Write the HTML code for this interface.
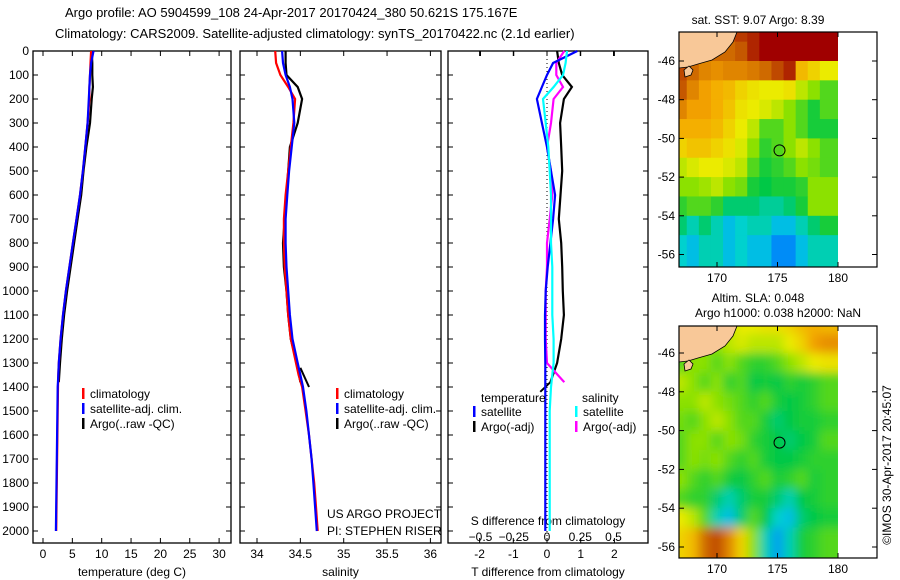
<!DOCTYPE html>
<html><head><meta charset="utf-8"><style>
body{margin:0;background:#fff;}
svg{display:block;font-family:"Liberation Sans",sans-serif;}
text{fill:#000;}
</style></head><body>
<svg id="c" width="900" height="580" viewBox="0 0 900 580"></svg>
<script>
// ---- data ----
const depthT=[0,50,100,150,200,300,400,500,600,700,800,900,1000,1100,1200,1300,1350,1400,1500,1600,1700,1800,1900,2000];
const tempClim=[8.2,8.1,8.0,7.9,7.9,7.6,7.2,6.8,6.3,5.7,5.1,4.5,3.9,3.4,3.0,2.7,2.6,2.55,2.5,2.45,2.4,2.35,2.3,2.25];
const tempSat=[8.6,8.2,8.0,7.9,7.8,7.6,7.2,6.8,6.3,5.7,5.1,4.5,3.9,3.4,3.0,2.7,2.6,2.5,2.45,2.4,2.35,2.3,2.25,2.2];
const tempArgo=[8.3,8.4,8.4,8.5,8.3,8.0,7.4,6.9,6.5,5.9,5.3,4.7,4.1,3.6,3.2,2.9,2.7];
const depthArgo=[0,50,100,150,200,300,400,500,600,700,800,900,1000,1100,1200,1300,1380];
const salClim=[34.21,34.22,34.27,34.36,34.44,34.42,34.39,34.36,34.33,34.31,34.31,34.32,34.34,34.36,34.39,34.45,34.48,34.52,34.56,34.6,34.63,34.66,34.68,34.7];
const salSat=[34.29,34.30,34.33,34.38,34.41,34.43,34.40,34.37,34.35,34.33,34.33,34.34,34.36,34.38,34.41,34.47,34.5,34.53,34.57,34.6,34.63,34.65,34.67,34.69];
const salArgo=[34.33,34.33,34.34,34.47,34.52,34.47,34.38,34.36,34.34,34.32,34.3,34.31,34.34,34.36,34.39,34.46,34.5];
const dTsat=[0.9,0.18,0,-0.15,-0.3,-0.15,0,0.12,0.24,0.18,0.1,0.02,-0.04,-0.06,-0.06,-0.05,-0.05,-0.05,-0.05,-0.05,-0.05,-0.05,-0.05,-0.05];
const dSsat=[0.15,0.14,0.12,0.05,-0.03,-0.01,0.01,0.02,0.03,0.03,0.03,0.04,0.04,0.04,0.05,0.05,0.04,0.03,0.02,0.02,0.02,0.02,0.02,0.02];
const dTargo=[0.3,0.35,0.45,0.74,0.5,0.39,0.42,0.45,0.4,0.35,0.42,0.45,0.47,0.5,0.42,0.3,0.1];
const dSargo=[0.13,0.07,0.07,0.12,0.05,0.03,0.0,0.03,0.04,0.02,0.0,0.0,-0.01,-0.01,-0.01,0,0.13];
const sstGrid=[
[1,.95,.9,.88,.9,.92,.95,1,1,1,1,1,1],
[.95,.9,.88,.85,.85,.88,.95,1,1,1,1,1,1],
[.9,.85,.8,.78,.8,.8,.82,.85,.9,.95,.7,.65,.6],
[.88,.8,.75,.72,.7,.65,.62,.6,.6,.62,.55,.5,.45],
[.8,.75,.75,.72,.68,.62,.6,.58,.55,.5,.45,.4,.45],
[.72,.72,.72,.7,.65,.6,.55,.45,.45,.5,.45,.4,.4],
[.65,.68,.68,.65,.62,.58,.5,.42,.45,.5,.55,.5,.45],
[.55,.58,.6,.6,.58,.55,.45,.4,.42,.45,.5,.48,.45],
[.5,.5,.52,.55,.5,.48,.4,.38,.4,.4,.42,.5,.5],
[.42,.45,.45,.42,.35,.35,.35,.32,.32,.35,.4,.5,.5],
[.35,.3,.35,.3,.25,.28,.3,.3,.25,.25,.3,.35,.4],
[.28,.25,.3,.3,.25,.28,.25,.25,.2,.2,.25,.3,.3]];
const slaGrid=[
[.55,.55,.55,.5,.55,.6,.6,.62,.62,.65,.7,.72,.7],
[.5,.5,.5,.5,.55,.58,.55,.55,.55,.6,.65,.75,.78],
[.45,.5,.5,.45,.5,.45,.42,.42,.45,.5,.55,.6,.62],
[.55,.5,.45,.5,.42,.45,.38,.4,.38,.42,.4,.42,.45],
[.5,.5,.55,.5,.48,.45,.42,.45,.4,.38,.4,.42,.45],
[.48,.45,.5,.55,.5,.45,.45,.4,.35,.38,.4,.4,.42],
[.45,.5,.5,.45,.5,.48,.42,.4,.38,.35,.38,.4,.45],
[.45,.5,.48,.5,.45,.42,.45,.4,.38,.38,.4,.42,.42],
[.5,.45,.42,.45,.4,.38,.42,.45,.4,.42,.45,.4,.42],
[.45,.42,.42,.35,.3,.35,.4,.4,.35,.3,.38,.4,.42],
[.6,.55,.45,.3,.25,.35,.45,.38,.28,.25,.35,.38,.4],
[.65,.7,.85,.9,.8,.65,.5,.3,.22,.3,.4,.42,.45]];
const depthTicks=[0,100,200,300,400,500,600,700,800,900,1000,1100,1200,1300,1400,1500,1600,1700,1800,1900,2000];
const tempTicks=[0,5,10,15,20,25,30];
const salTicks=[34,34.5,35,35.5,36];
const tdTicks=[-2,-1,0,1,2];
const sdTicks=[-0.5,-0.25,0,0.25,0.5];
const latTicks=[-46,-48,-50,-52,-54,-56];
const lonTicks=[170,175,180];

// ---- helpers ----
const S=document.getElementById('c'),NS='http://www.w3.org/2000/svg';
function el(t,a,p){const e=document.createElementNS(NS,t);for(const k in a)e.setAttribute(k,a[k]);(p||S).appendChild(e);return e;}
function txt(x,y,s,anchor,size,p){const e=el('text',{x:x,y:y,'text-anchor':anchor||'start','font-size':size||12},p);e.textContent=s;return e;}
const Y=d=>51+d*0.24, TOP=51, BOT=543;
const xT=v=>43+v*5.87, xS=v=>257+(v-34)*86.7, xTD=v=>547+v*33.7, xSD=v=>547+v*133;
const cols=[[0,[0,0,170]],[.18,[0,120,255]],[.27,[0,210,220]],[.38,[0,200,70]],[.5,[140,225,0]],[.6,[235,235,0]],[.74,[245,165,0]],[.87,[200,95,0]],[1,[160,0,0]]];
function cmap(v){for(let i=1;i<cols.length;i++){if(v<=cols[i][0]){const a=cols[i-1],b=cols[i],t=(v-a[0])/(b[0]-a[0]);return 'rgb('+a[1].map((c,j)=>Math.round(c+(b[1][j]-c)*t)).join(',')+')';}}return 'rgb(160,0,0)';}

// titles
let t=txt(65,17,'Argo profile: AO 5904599_108 24-Apr-2017 20170424_380 50.621S 175.167E','start',13);

t=txt(55,38,'Climatology: CARS2009. Satellite-adjusted climatology: synTS_20170422.nc (2.1d earlier)','start',13);


function panel(name,x0,x1,xf,ticks,fmt,xlabel,showY){
  const g=el('g',{});
  el('rect',{x:x0,y:TOP,width:x1-x0,height:BOT-TOP,fill:'none',stroke:'#000','stroke-width':1.3},g);
  depthTicks.forEach(d=>{el('line',{x1:x0,x2:x0+5,y1:Y(d),y2:Y(d),stroke:'#000'},g);el('line',{x1:x1-5,x2:x1,y1:Y(d),y2:Y(d),stroke:'#000'},g);
    if(showY)txt(x0-4,Y(d)+4,String(d),'end',12,g);});
  ticks.forEach(v=>{const x=xf(v);el('line',{x1:x,x2:x,y1:BOT,y2:BOT-5,stroke:'#000'},g);el('line',{x1:x,x2:x,y1:TOP,y2:TOP+5,stroke:'#000'},g);txt(x,558,fmt(v),'middle',12,g);});
  const lt=txt((x0+x1)/2,576,xlabel,'middle',12,g);
  return g;
}
function line(g,xs,ds,xf,color,name,w){
  const pts=xs.map((v,i)=>xf(v).toFixed(1)+','+Y(ds[i]).toFixed(1)).join(' ');
  const p=el('polyline',{points:pts,fill:'none',stroke:color,'stroke-width':w||2.2},g);
  
}
function legend(g,x,y,color,label,name){
  const e=el('g',{},g);
  el('rect',{x:x,y:y-10,width:2.5,height:11,fill:color},e);txt(x+8,y,label,'start',12,e);
}
// panel 1
const g1=panel('temperature-panel',33,231,xT,tempTicks,String,'temperature (deg C)',true);
line(g1,tempArgo,depthArgo,xT,'#000','argo-temperature-line');
line(g1,tempClim,depthT,xT,'#f00','climatology-temperature-line');
line(g1,tempSat,depthT,xT,'#00f','satellite-temperature-line');
legend(g1,82,398,'#f00','climatology','legend-climatology');
legend(g1,82,413,'#00f','satellite-adj. clim.','legend-satellite');
legend(g1,82,428,'#000','Argo(..raw -QC)','legend-argo');
// panel 2
const g2=panel('salinity-panel',240,441,xS,salTicks,String,'salinity',false);
line(g2,salArgo,depthArgo,xS,'#000','argo-salinity-line');
el('line',{x1:xS(34.5),y1:Y(1320),x2:xS(34.6),y2:Y(1400),stroke:'#000','stroke-width':2},g2);
line(g2,salClim,depthT,xS,'#f00','climatology-salinity-line');
line(g2,salSat,depthT,xS,'#00f','satellite-salinity-line');
legend(g2,336,398,'#f00','climatology','legend-climatology-2');
legend(g2,336,413,'#00f','satellite-adj. clim.','legend-satellite-2');
legend(g2,336,428,'#000','Argo(..raw -QC)','legend-argo-2');
t=txt(327,518,'US ARGO PROJECT','start',12,g2);
t=txt(327,535,'PI: STEPHEN RISER','start',12,g2);
// panel 3
const g3=panel('difference-panel',448,648,xTD,tdTicks,String,'T difference from climatology',false);
sdTicks.forEach(v=>{el('line',{x1:xSD(v),x2:xSD(v),y1:TOP,y2:TOP+5,stroke:'#000'},g3);txt(xSD(v),541,String(v).replace('-','\u2212'),'middle',12,g3);});
txt(548,525,'S difference from climatology','middle',12,g3);
el('line',{x1:547,x2:547,y1:TOP,y2:BOT,stroke:'#000','stroke-dasharray':'1,3'},g3);
line(g3,dTargo,depthArgo,xTD,'#000','argo-temperature-diff-line');
el('line',{x1:xTD(0.1),y1:Y(1380),x2:xTD(-0.2),y2:Y(1420),stroke:'#000','stroke-width':2},g3);
line(g3,dSargo,depthArgo,xSD,'#f0f','argo-salinity-diff-line');
line(g3,dTsat,depthT,xTD,'#00f','satellite-temperature-diff-line');
line(g3,dSsat,depthT,xSD,'#0ff','satellite-salinity-diff-line');
txt(481,402,'temperature','start',12,g3);txt(582,402,'salinity','start',12,g3);
legend(g3,473,416,'#00f','satellite','legend-t-satellite');
legend(g3,473,431,'#000','Argo(-adj)','legend-t-argo');
legend(g3,575,416,'#0ff','satellite','legend-s-satellite');
legend(g3,575,431,'#f0f','Argo(-adj)','legend-s-argo');

// maps
const lonX=l=>717+(l-170)*12.1;
function map(name,top,bot,grid,blur,title){
  const lat0=-46, py=(bot-top)/12.2; // approx px per deg
  const yl=l=>top+29+(lat0-l)*((bot-top-36)/10.6)+0; 
  const LY=l=>(top===32? 61+(-46-l)*19.35 : 353+(-46-l)*19.4);
  const g=el('g',{});
  const cid=name+'-clip';const cp=el('clipPath',{id:cid},g);el('rect',{x:679,y:top,width:lonX(180)-679,height:bot-top},cp);
  const cells=el('g',{'clip-path':'url(#'+cid+')'},g);
  const inner=el('g',blur?{filter:'url(#bl)'}:{},cells);
  grid.forEach((row,r)=>row.forEach((v,c)=>{
    const lat=-44.5-r, lon=167+c;
    const x=lonX(lon-0.5), y=LY(lat+0.5);
    const rc=el('rect',{x:x-(c==0?15:0),y:y-(r==0?15:0),width:12.1+(c==0?15:0)+(c==12?15:0)+0.5,height:19.4+(r==0?15:0)+(r==11?20:0)+0.5,fill:cmap(v)},inner);
    
  }));
  const land=el('path',{d:'M679,'+top+' L737,'+top+' L733,'+(top+10)+' L725,'+(top+20)+' L712,'+(top+28)+' L698,'+(top+32)+' L688,'+(top+35)+' L679,'+(top+36)+' Z',fill:'#f8c898',stroke:'#000','stroke-width':0.8},cells);
  
  el('path',{d:'M684,'+(top+38)+' l5,-4 l4,4 l-2,5 l-6,2 z',fill:'#f8c898',stroke:'#000','stroke-width':0.8},cells);
  const cc=el('circle',{cx:lonX(175.167),cy:LY(-50.621),r:5.5,fill:'none',stroke:'#000'},g);
  
  el('rect',{x:679,y:top,width:198,height:bot-top,fill:'none',stroke:'#000','stroke-width':1.2},g);
  latTicks.forEach(l=>{const y=LY(l);el('line',{x1:679,x2:684,y1:y,y2:y,stroke:'#000'},g);el('line',{x1:872,x2:877,y1:y,y2:y,stroke:'#000'},g);txt(675,y+4,String(l),'end',12,g);});
  lonTicks.forEach(l=>{const x=lonX(l);el('line',{x1:x,x2:x,y1:top,y2:top+5,stroke:'#000'},g);el('line',{x1:x,x2:x,y1:bot,y2:bot-5,stroke:'#000'},g);txt(x,bot+15,String(l),'middle',12,g);});
  return g;
}
const defs=el('defs',{});const f=el('filter',{id:'bl',x:'-10%',y:'-10%',width:'120%',height:'120%'},defs);el('feGaussianBlur',{stdDeviation:5},f);
map('sst-map',32,267,sstGrid,false);
map('sla-map',326,558,slaGrid,true);
t=txt(758,24,'sat. SST: 9.07 Argo: 8.39','middle',12);
t=txt(758,302,'Altim. SLA: 0.048','middle',12);
t=txt(778,317,'Argo h1000: 0.038 h2000: NaN','middle',12);
t=txt(0,0,'©IMOS 30-Apr-2017 20:45:07','middle',12);t.setAttribute('transform','translate(891,465) rotate(-90)');

</script>
</body></html>
